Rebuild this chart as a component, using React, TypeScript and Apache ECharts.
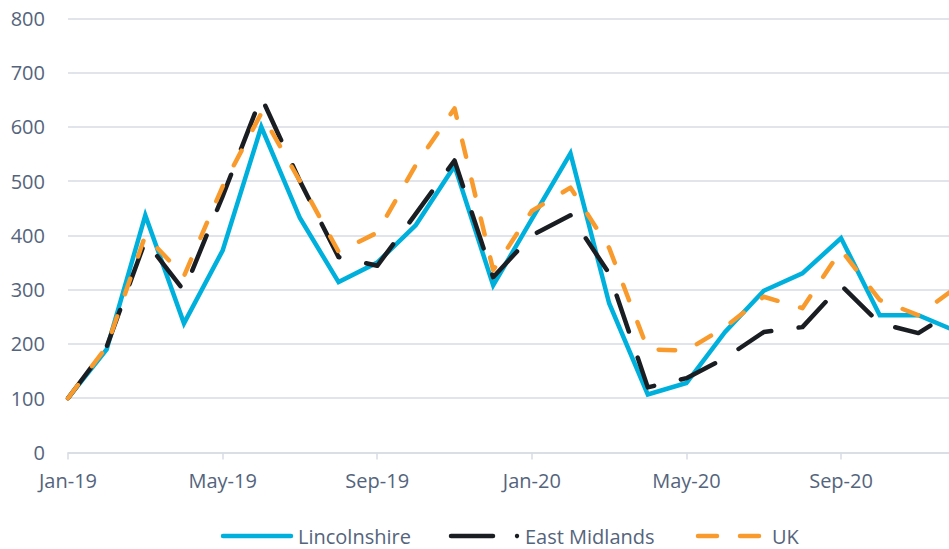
import React, { useEffect, useRef } from "react";
import * as echarts from "echarts";

const months = [
  "Jan-19", "Feb-19", "Mar-19", "Apr-19", "May-19", "Jun-19", "Jul-19", "Aug-19", "Sep-19", "Oct-19", "Nov-19", "Dec-19",
  "Jan-20", "Feb-20", "Mar-20", "Apr-20", "May-20", "Jun-20", "Jul-20", "Aug-20", "Sep-20", "Oct-20", "Nov-20", "Dec-20",
];
const lincolnshire = [100, 190, 437, 238, 372, 600, 432, 314, 350, 419, 528, 308, 430, 551, 275, 107, 128, 222, 298, 330, 395, 253, 253, 223];
const eastMidlands = [100, 195, 390, 298, 472, 655, 500, 360, 344, 440, 538, 323, 400, 437, 330, 120, 137, 174, 222, 231, 308, 238, 220, 265];
const uk = [100, 195, 400, 325, 490, 625, 500, 370, 405, 530, 634, 336, 445, 488, 377, 190, 188, 231, 287, 266, 373, 281, 253, 305];
const yTicks = { min: 0, max: 800, step: 100 };
const legendNames = ["Lincolnshire", "East Midlands", "UK"];

const BLUE = "#00B0DC";
const BLACK = "#1A1D21";
const ORANGE = "#F99A2C";
const TEXT = "#54647C";
const GRID = "#D7DCE4";
const FONT = "'Open Sans', sans-serif";

export default function App() {
  const ref = useRef<HTMLDivElement>(null);
  useEffect(() => {
    if (!ref.current) return;
    const chart = echarts.init(ref.current, undefined, { renderer: "svg" });
    const ly = 536;
    chart.setOption({
      animation: false,
      backgroundColor: "#fff",
      grid: { left: 68, top: 18.3, width: 889, height: 434.2, containLabel: false, outerBoundsMode: "none" },
      xAxis: {
        type: "category",
        data: months,
        boundaryGap: false,
        axisLine: { lineStyle: { color: GRID, width: 1.5 } },
        axisTick: { show: true, interval: 3, length: 7, lineStyle: { color: GRID, width: 1.5 } },
        axisLabel: { interval: 3, color: TEXT, fontSize: 20, fontFamily: FONT, margin: 18 },
        splitLine: { show: false },
      },
      yAxis: {
        type: "value",
        min: yTicks.min,
        max: yTicks.max,
        interval: yTicks.step,
        axisLine: { show: false },
        axisTick: { show: false },
        axisLabel: { color: TEXT, fontSize: 20, fontFamily: FONT, margin: 23 },
        splitLine: { lineStyle: { color: GRID, width: 1.5 } },
      },
      series: [
        {
          name: legendNames[0],
          type: "line",
          data: lincolnshire,
          symbol: "none",
          z: 2,
          lineStyle: { color: BLUE, width: 4.5, join: "miter", cap: "butt" },
        },
        {
          name: legendNames[1],
          type: "line",
          data: eastMidlands,
          symbol: "none",
          z: 3,
          lineStyle: { color: BLACK, width: 4.5, type: [38, 27.5], cap: "round", join: "round" },
        },
        {
          name: legendNames[2],
          type: "line",
          data: uk,
          symbol: "none",
          z: 4,
          lineStyle: { color: ORANGE, width: 4.5, type: [16.5, 23.5], cap: "round", join: "round" },
        },
      ],
      graphic: [
        { type: "line", shape: { x1: 223, y1: ly, x2: 291, y2: ly }, style: { stroke: BLUE, lineWidth: 4.5, lineCap: "round" } },
        { type: "text", x: 298, y: ly, style: { text: legendNames[0], fill: TEXT, font: `20px ${FONT}`, verticalAlign: "middle" } },
        { type: "line", shape: { x1: 451, y1: ly, x2: 493, y2: ly }, style: { stroke: BLACK, lineWidth: 4.5, lineCap: "round" } },
        { type: "circle", shape: { cx: 517, cy: ly, r: 2.2 }, style: { fill: BLACK } },
        { type: "text", x: 525, y: ly, style: { text: legendNames[1], fill: TEXT, font: `20px ${FONT}`, verticalAlign: "middle" } },
        { type: "line", shape: { x1: 698, y1: ly, x2: 717, y2: ly }, style: { stroke: ORANGE, lineWidth: 4.5, lineCap: "round" } },
        { type: "line", shape: { x1: 740, y1: ly, x2: 759, y2: ly }, style: { stroke: ORANGE, lineWidth: 4.5, lineCap: "round" } },
        { type: "text", x: 772, y: ly, style: { text: legendNames[2], fill: TEXT, font: `20px ${FONT}`, verticalAlign: "middle" } },
      ],
    });
    return () => chart.dispose();
  }, []);
  return <div ref={ref} style={{ position: "fixed", left: 0, top: 0, width: 949, height: 549 }} />;
}
